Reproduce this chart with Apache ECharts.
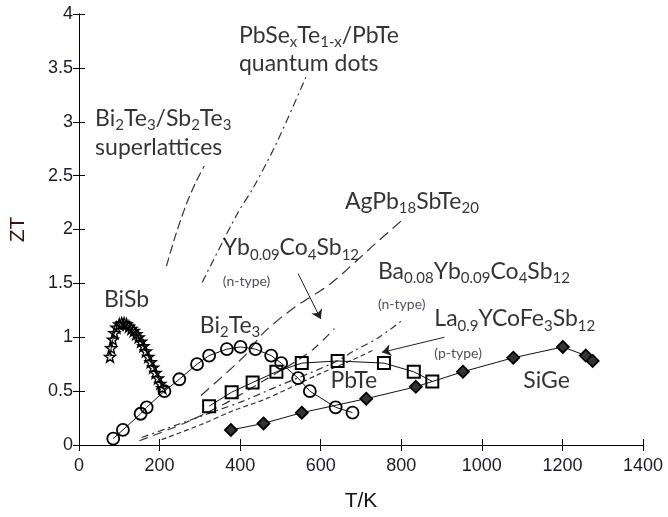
<!DOCTYPE html>
<html><head><meta charset="utf-8">
<script src="https://cdn.jsdelivr.net/npm/echarts@6/dist/echarts.min.js"></script>
<style>html,body{margin:0;padding:0;background:#fff}#c{width:668px;height:517px}</style>
</head><body><div id="c"></div>
<script>
// ---- data ----
const biSbT  = [77,80,84,88,93,100,106,112,118,124,130,136,142,148,154,160,166,172,178,184,190,196,202,207];
const biSbZT = [0.82,0.90,0.98,1.04,1.09,1.12,1.13,1.13,1.12,1.10,1.08,1.06,1.03,1.00,0.96,0.92,0.87,0.82,0.77,0.72,0.67,0.62,0.57,0.53];
const bi2te3T  = [85,109,153,168,212,249,293,323,367,401,438,477,502,544,573,637,679];
const bi2te3ZT = [0.06,0.14,0.29,0.35,0.50,0.61,0.75,0.83,0.89,0.91,0.89,0.83,0.76,0.62,0.50,0.35,0.30];
const pbteT  = [323,379,431,490,553,642,757,831,877];
const pbteZT = [0.36,0.49,0.58,0.68,0.76,0.78,0.76,0.68,0.59];
const sigeT  = [377,458,553,713,836,953,1078,1201,1258,1275];
const sigeZT = [0.14,0.20,0.30,0.43,0.54,0.68,0.81,0.91,0.83,0.78];
const slT  = [217,240,266,290,311];
const slZT = [1.66,1.95,2.23,2.44,2.59];
const qdT  = [306,392,433,490,564];
const qdZT = [1.51,2.14,2.39,2.80,3.42];
const agT  = [303,409,458,532,622,736,806];
const agZT = [0.46,0.82,1.04,1.27,1.49,1.87,2.10];
const ybT  = [150,260,360,460,540,585,634];
const ybZT = [0.04,0.20,0.38,0.60,0.78,0.90,1.08];
const baT  = [156,245,343,409,490,630,686,745,807];
const baZT = [0.07,0.19,0.32,0.41,0.54,0.76,0.88,1.00,1.17];
const laT  = [205,303,384,465,597,679,730];
const laZT = [0.05,0.19,0.32,0.43,0.66,0.79,0.88];
const xTickLabels = ['0','200','400','600','800','1000','1200','1400'];
const yTickLabels = ['0','0.5','1','1.5','2','2.5','3','3.5','4'];
// annotation text (rich markup) and anchor points in data units
const labelTexts = [
  '{n|PbSe}{s|x}{n|Te}{s|1-x}{n|/PbTe}',
  '{n|quantum dots}',
  '{n|Bi}{s|2}{n|Te}{s|3}{n|/Sb}{s|2}{n|Te}{s|3}',
  '{n|superlattices}',
  '{n|AgPb}{s|18}{n|SbTe}{s|20}',
  '{n|Yb}{s|0.09}{n|Co}{s|4}{n|Sb}{s|12}',
  '{m|(n-type)}',
  '{n|Ba}{s|0.08}{n|Yb}{s|0.09}{n|Co}{s|4}{n|Sb}{s|12}',
  '{m|(n-type)}',
  '{n|La}{s|0.9}{n|YCoFe}{s|3}{n|Sb}{s|12}',
  '{m|(p-type)}',
  '{n|BiSb}',
  '{n|Bi}{s|2}{n|Te}{s|3}',
  '{n|PbTe}',
  '{n|SiGe}'
];
const labelT  = [397,397,40,40,660,357,357,742,742,882,882,62,300,624,1103];
const labelZT = [3.80,3.54,3.03,2.76,2.26,1.83,1.52,1.61,1.30,1.17,0.85,1.35,1.11,0.60,0.60];
const arrowFrom = [[544,1.59],[907,1.00]];
const arrowTo   = [[600,1.17],[752,0.86]];

const zip = (a,b) => a.map((v,i)=>[v,b[i]]);
const star = 'path://M0,-10 L2.35,-3.24 L9.51,-3.09 L3.8,1.24 L5.88,8.09 L0,4 L-5.88,8.09 L-3.8,1.24 L-9.51,-3.09 L-2.35,-3.24 Z';

function markerSeries(T, Z, symbol, size, fill, bw) {
  return {type:'line', data:zip(T,Z), symbol:symbol, symbolSize:size, showAllSymbol:true,
    lineStyle:{color:'#111', width:1}, itemStyle:{color:fill, borderColor:'#000', borderWidth:bw},
    z:5, silent:true};
}
function dashSeries(T, Z, dash) {
  return {type:'line', data:zip(T,Z), symbol:'none', smooth:0.3,
    lineStyle:{color:'#333', width:1.2, type:dash}, z:3, silent:true};
}

const tickFont = {fontFamily:'Liberation Sans, Arial', fontSize:18, color:'#1a1a2a'};
const axisCommon = {axisLine:{lineStyle:{color:'#000', width:1}}, axisTick:{inside:true, length:6, lineStyle:{color:'#000'}}, splitLine:{show:false}};

const chart = echarts.init(document.getElementById('c'), null, {renderer:'canvas'});
chart.setOption({
  animation:false,
  backgroundColor:'#fff',
  grid:{left:74, top:14, width:569, height:444},
  xAxis:[
    Object.assign({type:'value', min:0, max:1400, interval:200, position:'bottom',
      name:'T/K', nameLocation:'middle', nameGap:46, nameTextStyle:{fontFamily:'Liberation Sans, Arial', fontSize:21, color:'#111'},
      axisLabel:Object.assign({margin:12, formatter:(v)=>xTickLabels[Math.round(v/200)]}, tickFont)}, axisCommon),
    Object.assign({type:'value', min:0, max:1400, interval:200, position:'top', axisLabel:{show:false}}, axisCommon)
  ],
  yAxis:[
    Object.assign({type:'value', min:0, max:4, interval:0.5, position:'left',
      name:'ZT', nameLocation:'middle', nameGap:50, nameTextStyle:{fontFamily:'Liberation Sans, Arial', fontSize:21, color:'#3a1414'},
      axisLabel:Object.assign({margin:6, formatter:(v)=>yTickLabels[Math.round(v/0.5)]}, tickFont)}, axisCommon),
    Object.assign({type:'value', min:0, max:4, interval:0.5, position:'right', axisLabel:{show:false}}, axisCommon)
  ],
  series:[
    dashSeries(slT, slZT, [9,4]),
    dashSeries(qdT, qdZT, [8,4,2,4]),
    dashSeries(agT, agZT, [11,6]),
    dashSeries(ybT, ybZT, [9,6]),
    dashSeries(baT, baZT, [7,4,2,4]),
    dashSeries(laT, laZT, [5,3]),
    markerSeries(biSbT, biSbZT, star, 11, 'rgba(255,255,255,0)', 1.4),
    markerSeries(bi2te3T, bi2te3ZT, 'circle', 12, 'rgba(255,255,255,0)', 1.8),
    markerSeries(pbteT, pbteZT, 'rect', 12, 'rgba(255,255,255,0)', 2),
    markerSeries(sigeT, sigeZT, 'diamond', 12, '#333', 1.8),
    {type:'line', data:[], silent:true,
     markLine:{silent:true, symbol:['none','arrow'], symbolSize:9, label:{show:false},
       lineStyle:{color:'#222', width:1, type:'solid'},
       data: arrowFrom.map((f,i)=>[{coord:f},{coord:arrowTo[i]}])}},
    {type:'scatter', symbolSize:0, silent:true, z:10,
     data: labelT.map((t,i)=>[t, labelZT[i], i]),
     label:{show:true, position:'right', distance:0,
       formatter:(p)=>labelTexts[p.data[2]],
       rich:{
         n:{fontFamily:'Lato', fontSize:23, color:'#000'},
         s:{fontFamily:'Lato', fontSize:15, color:'#000', padding:[14,0,0,0]},
         m:{fontFamily:'Lato', fontSize:14, color:'#222233'}
       }}}
  ]
});
</script></body></html>
